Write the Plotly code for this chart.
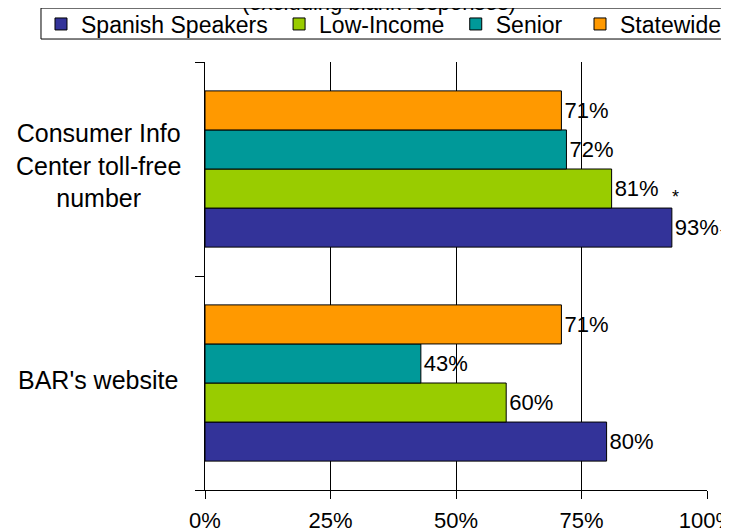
import plotly.graph_objects as go

# sources (bottom to top on the chart)
sources = ["BAR's website", "Consumer Info<br>Center toll-free<br>number"]

groups = ["Spanish Speakers", "Low-Income", "Senior", "Statewide"]
colors = ["#333399", "#99CC00", "#009999", "#FF9900"]

spanish = [80, 93]
low_income = [60, 81]
senior = [43, 72]
statewide = [71, 71]

x_ticks = [0, 25, 50, 75, 100]
x_labels = ["0%", "25%", "50%", "75%", "100%"]

FONT = "Arial, Liberation Sans, sans-serif"
# a bit of extra room after some legend names, like the original legend spacing
pad = ["\u00a0", "\u00a0", "\u00a0\u00a0", ""]

fig = go.Figure()
for name, vals, col, p in zip(groups, [spanish, low_income, senior, statewide], colors, pad):
    fig.add_trace(go.Bar(
        y=sources, x=vals, name=name + p, orientation="h",
        marker=dict(color=col, line=dict(color="#000000", width=1)),
        text=[f"{v}%" for v in vals], textposition="outside",
        textfont=dict(size=22, color="#000000", family=FONT),
        cliponaxis=False,
    ))

# category labels, centred like the original
for s, ys in zip(sources, [3, 4]):
    fig.add_annotation(x=-0.213, xref="paper", y=s, yref="y", text=s, showarrow=False,
                       xanchor="center", align="center", yshift=ys,
                       font=dict(size=25, color="#000000", family=FONT))

# significance asterisks
fig.add_annotation(x=low_income[1], xref="x", y=sources[1], yref="y", text="*",
                   showarrow=False, xshift=64, yshift=-28,
                   font=dict(size=18, color="#000000", family=FONT))
fig.add_annotation(x=spanish[1], xref="x", y=sources[1], yref="y", text="*",
                   showarrow=False, xshift=52, yshift=-66,
                   font=dict(size=18, color="#000000", family=FONT))

# subtitle, mostly cut off at the top
fig.add_annotation(x=(371 - 197) / 502, xref="paper", y=1.14, yref="paper",
                   text="(excluding blank responses)", showarrow=False,
                   xanchor="center", yanchor="middle",
                   font=dict(size=22, color="#000000", family=FONT))

# legend frame, open on the right where the original is cut off
fig.add_shape(type="path", xref="paper", yref="paper",
              path="M 1.3 1.126 L -0.3267 1.126 L -0.3267 1.0537 L 1.3 1.0537",
              line=dict(color="#000000", width=1), layer="above")

fig.update_layout(
    width=729, height=532,
    margin=dict(l=197, r=30, t=54, b=50, autoexpand=False),
    paper_bgcolor="white", plot_bgcolor="white",
    barmode="group", bargap=0.27, bargroupgap=0,
    font=dict(family=FONT, size=22, color="#000000"),
    showlegend=True,
    legend=dict(orientation="h", x=-0.3267, y=1.139, xanchor="left", yanchor="top",
                bgcolor="rgba(0,0,0,0)", borderwidth=0,
                font=dict(size=23, family=FONT), traceorder="normal"),
    xaxis=dict(range=[0, 100], tickvals=x_ticks, ticktext=x_labels,
               showgrid=True, gridcolor="#000000", gridwidth=1,
               showline=True, linecolor="#000000", linewidth=1,
               ticks="outside", ticklen=8, tickcolor="#000000",
               ticklabelstandoff=3,
               zeroline=False, tickfont=dict(size=22)),
    yaxis=dict(range=[-0.5, 1.5], showticklabels=False,
               showline=True, linecolor="#000000", linewidth=1,
               ticks="outside", tickson="boundaries", ticklen=9,
               tickcolor="#000000", showgrid=False),
)

fig.write_html("out.html")
